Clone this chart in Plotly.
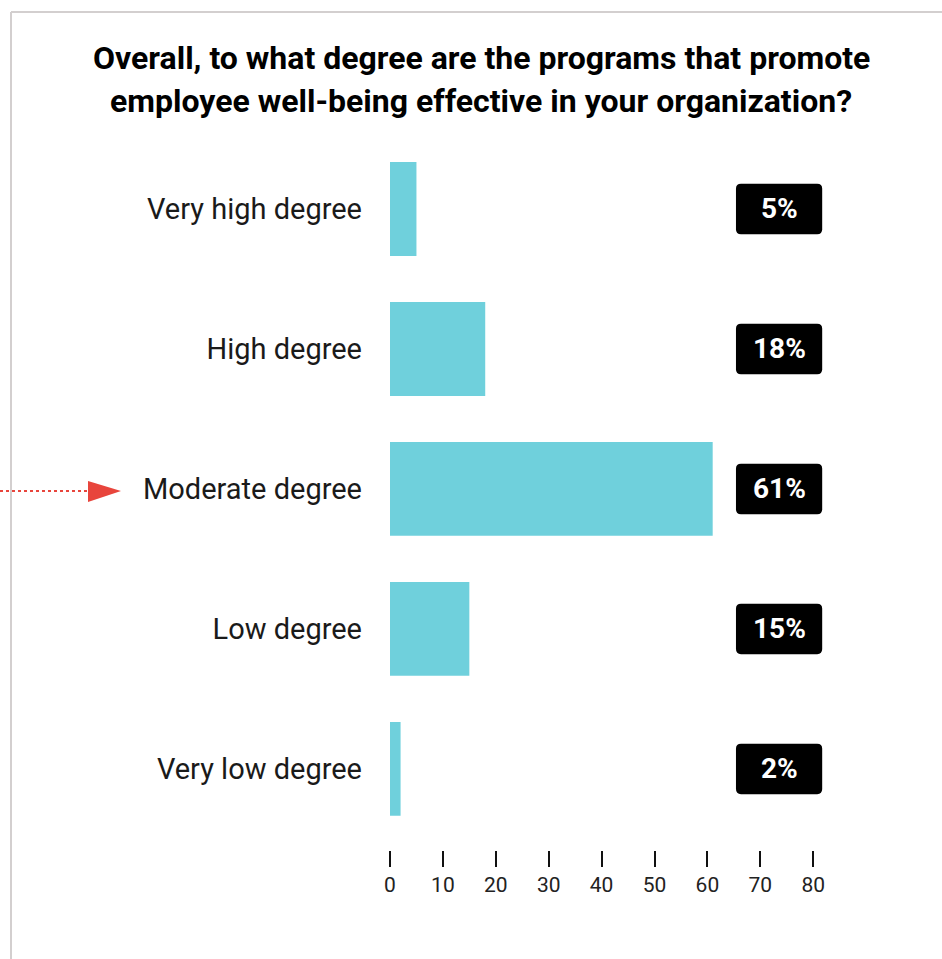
import plotly.graph_objects as go

# Survey responses
categories = ["Very high degree", "High degree", "Moderate degree", "Low degree", "Very low degree"]
values = [5, 18, 61, 15, 2]
x_ticks = [0, 10, 20, 30, 40, 50, 60, 70, 80]
title_lines = ["Overall, to what degree are the programs that promote",
               "employee well-being effective in your organization?"]

W, H = 942, 959
ML, MR, MT, MB = 390, 23, 139, 109
PW, PH = W - ML - MR, H - MT - MB
BAR_COLOR = "#6fd0dc"
FONT = "Roboto"


def px(x):
    """Horizontal pixel -> paper fraction (plot-area based)."""
    return (x - ML) / PW


def py(y):
    """Vertical pixel (from top) -> paper fraction (plot-area based)."""
    return (H - MB - y) / PH


y_pos = list(range(len(categories)))

fig = go.Figure()
fig.add_trace(go.Bar(
    x=values, y=y_pos, orientation="h",
    marker=dict(color=BAR_COLOR, line=dict(width=0)),
    width=0.67, hoverinfo="skip",
))

# Value badges: rounded black boxes to the right of the bars
BX0, BX1 = 65.4, 81.7      # badge extent along the value axis
BH = 0.18                  # half height in category units
rx, ry = 0.95, 0.036       # corner radius in axis units
shapes = []
annotations = []
for i, v in enumerate(values):
    y0, y1 = i - BH, i + BH
    path = (f"M{BX0+rx},{y0} L{BX1-rx},{y0} Q{BX1},{y0} {BX1},{y0+ry} "
            f"L{BX1},{y1-ry} Q{BX1},{y1} {BX1-rx},{y1} "
            f"L{BX0+rx},{y1} Q{BX0},{y1} {BX0},{y1-ry} "
            f"L{BX0},{y0+ry} Q{BX0},{y0} {BX0+rx},{y0} Z")
    shapes.append(dict(type="path", path=path, xref="x", yref="y",
                       fillcolor="#000000", line=dict(width=0), layer="above"))
    annotations.append(dict(x=(BX0 + BX1) / 2, y=i, xref="x", yref="y",
                            xanchor="center", yanchor="middle",
                            text=f"<b>{v}%</b>", showarrow=False,
                            font=dict(family=FONT, size=28, color="#ffffff")))

# Frame lines along the top and left edge
frame = "#d3cfcf"
shapes.append(dict(type="line", xref="paper", yref="paper",
                   x0=px(11), x1=px(W), y0=py(12), y1=py(12),
                   line=dict(color=frame, width=2)))
shapes.append(dict(type="line", xref="paper", yref="paper",
                   x0=px(11), x1=px(11), y0=py(H), y1=py(12),
                   line=dict(color=frame, width=2)))

# Pointer arrow towards the highlighted answer
red = "#e8453c"
shapes.append(dict(type="line", xref="paper", yref="paper",
                   x0=px(0), x1=px(90), y0=py(491), y1=py(491),
                   line=dict(color=red, width=2, dash="dot")))
shapes.append(dict(type="path", xref="paper", yref="paper",
                   path=f"M{px(88)},{py(481)} L{px(121)},{py(491)} L{px(88)},{py(502)} Z",
                   fillcolor=red, line=dict(width=0)))

# Two-line heading
for line, ty in zip(title_lines, [58, 101]):
    annotations.append(dict(
        x=px(481), y=py(ty), xref="paper", yref="paper",
        xanchor="center", yanchor="middle",
        text=f"<b>{line}</b>", showarrow=False,
        font=dict(family=FONT, size=32, color="#000000"),
    ))

fig.update_layout(
    width=W, height=H,
    margin=dict(l=ML, r=MR, t=MT, b=MB),
    plot_bgcolor="#ffffff", paper_bgcolor="#ffffff",
    showlegend=False,
    shapes=shapes, annotations=annotations,
    xaxis=dict(range=[0, 100], tickvals=x_ticks, ticktext=[str(t) for t in x_ticks],
               showgrid=False, zeroline=False, showline=False,
               ticks="outside", ticklen=16, tickwidth=2, tickcolor="#111111",
               tickfont=dict(family=FONT, size=21, color="#222222")),
    yaxis=dict(range=[4.579, -0.5], tickvals=y_pos, ticktext=categories,
               showgrid=False, zeroline=False, showline=False, ticks="",
               ticklabelstandoff=27,
               tickfont=dict(family=FONT, size=29, color="#1a1a1a")),
)

fig.write_html("out.html")
